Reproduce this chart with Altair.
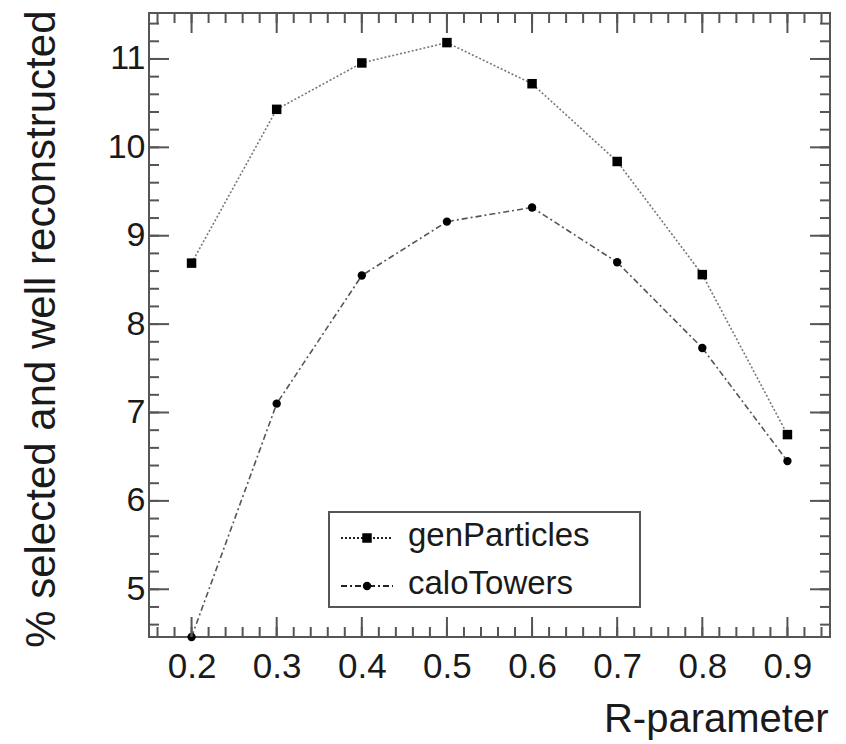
import altair as alt
import pandas as pd

# ---- data ----
r_values = [0.2, 0.3, 0.4, 0.5, 0.6, 0.7, 0.8, 0.9]
gen_particles = [8.69, 10.43, 10.955, 11.185, 10.72, 9.84, 8.56, 6.75]
calo_towers = [4.46, 7.10, 8.55, 9.16, 9.32, 8.70, 7.73, 6.45]
series_names = ["genParticles", "caloTowers"]

x_tick_labels = [0.2, 0.3, 0.4, 0.5, 0.6, 0.7, 0.8, 0.9]
x_minor_ticks = [round(0.16 + 0.02 * i, 2) for i in range(40) if 0.16 + 0.02 * i < 0.95]
y_tick_labels = [5, 6, 7, 8, 9, 10, 11]
y_minor_ticks = [round(4.6 + 0.2 * i, 1) for i in range(35) if 4.6 + 0.2 * i < 11.52]

# ---- style ----
FONT = "Liberation Sans"
FRAME = "#555555"
TEXT = "#1a1a1a"
W, H = 681, 624

xs = alt.Scale(domain=[0.15, 0.95], nice=False, zero=False)
ys = alt.Scale(domain=[4.46, 11.52], nice=False, zero=False)

styles = {
    "genParticles": dict(dash=[2, 2], color="#777777", shape="square", size=90),
    "caloTowers": dict(dash=[6, 3, 2, 3], color="#555555", shape="circle", size=70),
}

df = pd.DataFrame({
    "r": r_values * 2,
    "val": gen_particles + calo_towers,
    "series": [series_names[0]] * len(r_values) + [series_names[1]] * len(r_values),
})

x_axis = alt.Axis(values=x_tick_labels, format=".1f", ticks=False, tickSize=0, domain=False,
                  grid=False, labelFont=FONT, labelFontSize=35, labelColor=TEXT,
                  labelPadding=12, title="R-parameter", titleFont=FONT, titleFontSize=40,
                  titleFontWeight="normal", titleColor=TEXT, titleAlign="right",
                  titleBaseline="alphabetic", titleX=679, titleY=94)
y_axis = alt.Axis(values=y_tick_labels, format="d", ticks=False, tickSize=0, domain=False,
                  grid=False, labelFont=FONT, labelFontSize=34, labelColor=TEXT,
                  labelPadding=4, title="% selected and well reconstructed", titleFont=FONT,
                  titleFontSize=42, titleFontWeight="normal", titleColor=TEXT,
                  titleAngle=270, titleAlign="right", titleBaseline="alphabetic",
                  titleX=-95, titleY=-3)


def X(field):
    return alt.X(field, scale=xs, axis=x_axis)


def Y(field):
    return alt.Y(field, scale=ys, axis=y_axis)


layers = []
for name in series_names:
    st = styles[name]
    sub = df[df.series == name]
    base = alt.Chart(sub)
    line = base.mark_line(strokeDash=st["dash"], color=st["color"], strokeWidth=1.6).encode(
        x=X("r:Q"), y=Y("val:Q"))
    pts = base.mark_point(shape=st["shape"], filled=True, size=st["size"], color="black",
                          opacity=1).encode(x=X("r:Q"), y=Y("val:Q"))
    layers += [line, pts]


def xticks(vals, length, top):
    d = pd.DataFrame({"r": vals})
    y0, y1 = (0, length) if top else (H, H - length)
    return alt.Chart(d).mark_rule(color=FRAME, strokeWidth=2).encode(
        x=X("r:Q"), y=alt.value(y0), y2=alt.value(y1))


def yticks(vals, length, right):
    d = pd.DataFrame({"val": vals})
    x0, x1 = (W, W - length) if right else (0, length)
    return alt.Chart(d).mark_rule(color=FRAME, strokeWidth=2).encode(
        y=Y("val:Q"), x=alt.value(x0), x2=alt.value(x1))


ticks = [
    xticks(x_tick_labels, 20, False), xticks(x_tick_labels, 20, True),
    xticks(x_minor_ticks, 10, False), xticks(x_minor_ticks, 10, True),
    yticks(y_tick_labels, 20, False), yticks(y_tick_labels, 20, True),
    yticks(y_minor_ticks, 10, False), yticks(y_minor_ticks, 10, True),
]

# ---- legend box ----
leg_df = pd.DataFrame({"name": series_names})
legend = [
    alt.Chart(leg_df).mark_rect(fill="white", stroke=FRAME, strokeWidth=2).encode(
        x=alt.value(180), x2=alt.value(491), y=alt.value(499), y2=alt.value(594))
]
for i, name in enumerate(series_names):
    st = styles[name]
    d = pd.DataFrame({"name": [name]})
    yy = 525 + 48 * i
    legend.append(alt.Chart(d).mark_rule(strokeDash=st["dash"], color="#222222",
                                         strokeWidth=2).encode(
        x=alt.value(192), x2=alt.value(244), y=alt.value(yy)))
    legend.append(alt.Chart(d).mark_point(shape=st["shape"], filled=True, size=st["size"],
                                          color="black", opacity=1).encode(
        x=alt.value(218), y=alt.value(yy)))
    legend.append(alt.Chart(d).mark_text(align="left", baseline="alphabetic", font=FONT,
                                         fontSize=33, color=TEXT).encode(
        x=alt.value(259), y=alt.value(yy + 8), text="name:N"))

chart = alt.layer(*layers, *ticks, *legend).properties(
    width=W, height=H,
    autosize=alt.AutoSizeParams(type="none"),
    padding={"left": 149, "top": 13, "right": 16, "bottom": 107},
    background="white",
).configure_view(stroke=FRAME, strokeWidth=2)

chart.save("out.html", embed_options={"renderer": "svg", "actions": False})
